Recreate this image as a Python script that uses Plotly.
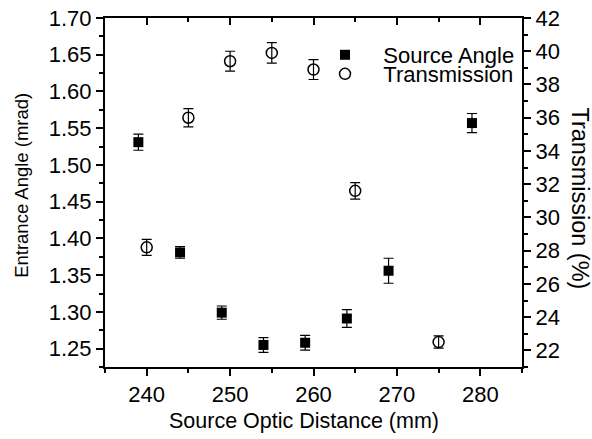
import plotly.graph_objects as go

# Data
angle_x = [239, 244, 249, 254, 259, 264, 269, 279]
angle_y = [1.531, 1.381, 1.299, 1.255, 1.258, 1.291, 1.356, 1.557]
angle_err = [0.011, 0.008, 0.009, 0.010, 0.010, 0.012, 0.017, 0.013]

trans_x = [240, 245, 250, 255, 260, 265, 275]
trans_y = [28.2, 36.0, 39.4, 39.9, 38.9, 31.6, 22.5]
trans_err = [0.48, 0.55, 0.6, 0.62, 0.6, 0.5, 0.37]

x_ticks = [240, 250, 260, 270, 280]

FONT = "Liberation Sans, Arial, sans-serif"
FS = 22
PAD = "\u00a0\u00a0\u00a0"

fig = go.Figure()
fig.add_trace(go.Scatter(
    x=angle_x, y=angle_y, mode="markers", name=PAD + "Source Angle",
    marker=dict(symbol="square", size=10, color="black"),
    error_y=dict(type="data", array=angle_err, color="black", thickness=1.2, width=5),
    xaxis="x", yaxis="y", legend="legend", showlegend=True))
fig.add_trace(go.Scatter(
    x=trans_x, y=trans_y, mode="markers", name=PAD + "Transmission",
    marker=dict(symbol="circle-open", size=11, color="black", line=dict(width=1.5, color="black")),
    error_y=dict(type="data", array=trans_err, color="black", thickness=1.2, width=5),
    xaxis="x", yaxis="y2", legend="legend2", showlegend=True))
# empty trace so the top (mirror) tick axis is drawn
fig.add_trace(go.Scatter(x=[], y=[], xaxis="x2", yaxis="y", showlegend=False, hoverinfo="skip"))

axis_common = dict(showline=True, linecolor="black", linewidth=2, showgrid=False,
                   zeroline=False, tickcolor="black", tickwidth=1.5, automargin=False,
                   ticklabeloverflow="allow",
                   tickfont=dict(family=FONT, size=FS, color="black"))

leg_common = dict(xanchor="left", yanchor="middle", bgcolor="rgba(0,0,0,0)",
                  font=dict(family=FONT, size=FS, color="black"), itemwidth=30,
                  borderwidth=0)

fig.update_layout(
    width=592, height=439,
    margin=dict(l=105, r=70, t=18, b=72),
    paper_bgcolor="white", plot_bgcolor="white",
    showlegend=True,
    font=dict(family=FONT, size=FS, color="black"),
    xaxis=dict(range=[235, 285], tickvals=x_ticks, ticks="outside", ticklen=7,
               minor=dict(dtick=5, tick0=235, ticks="outside", ticklen=4, tickcolor="black", tickwidth=1.5),
               **axis_common),
    xaxis2=dict(range=[235, 285], overlaying="x", side="top", tickvals=x_ticks,
                ticks="inside", ticklen=7, showticklabels=False,
                minor=dict(dtick=5, tick0=235, ticks="inside", ticklen=4, tickcolor="black", tickwidth=1.5),
                **axis_common),
    yaxis=dict(range=[1.225, 1.70], dtick=0.05, tick0=1.25, tickformat=".2f", ticks="outside", ticklen=7,
               minor=dict(dtick=0.025, ticks="outside", ticklen=4, tickcolor="black", tickwidth=1.5),
               **axis_common),
    yaxis2=dict(range=[21, 42], overlaying="y", side="right", dtick=2, tick0=22, ticks="outside", ticklen=7,
                minor=dict(dtick=1, ticks="outside", ticklen=4, tickcolor="black", tickwidth=1.5),
                **axis_common),
    legend=dict(x=0.5276, y=0.894, **leg_common),
    legend2=dict(x=0.5276, y=0.8395, **leg_common),
    annotations=[
        dict(text="Source Optic Distance (mm)", xref="paper", yref="paper",
             x=0.5, y=0, xanchor="center", yanchor="middle", xshift=-10, yshift=-54,
             showarrow=False, font=dict(family=FONT, size=21.5, color="black")),
        dict(text="Entrance Angle (mrad)", textangle=-90, xref="paper", yref="paper",
             x=0, y=0.519, xanchor="center", yanchor="middle", xshift=-83, showarrow=False,
             font=dict(family=FONT, size=18.5, color="black")),
        dict(text="Transmission (%)", textangle=90, xref="paper", yref="paper",
             x=1, y=0.483, xanchor="center", yanchor="middle", xshift=58, showarrow=False,
             font=dict(family=FONT, size=23.5, color="black")),
    ],
)

# remove the default 8px page margin so the 592x439 figure fills the window exactly
fig.write_html("out.html", config={"displayModeBar": False},
               post_script="document.body.style.margin='0';document.body.style.overflow='hidden';")
